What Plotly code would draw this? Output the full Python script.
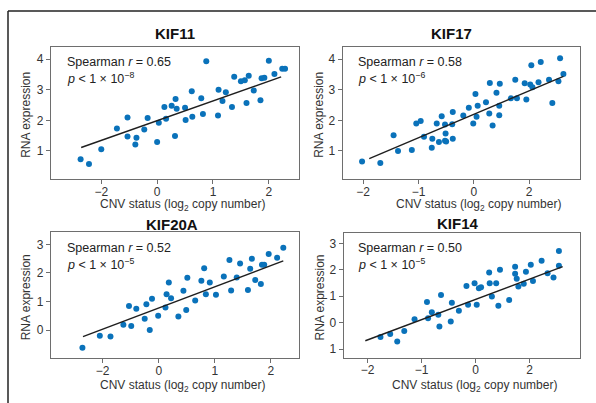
import plotly.graph_objects as go

W, H = 596, 403

# ---------------- data ----------------
titles = ["KIF11", "KIF17", "KIF20A", "KIF14"]
spearman_r = ["0.65", "0.58", "0.52", "0.50"]
p_exp = ["8", "6", "5", "5"]

kif11_x = [-1.37, -1.22, -1.00, -0.72, -0.53, -0.53, -0.37, -0.39, -0.23, -0.17, 0.00, 0.03, 0.13,
           0.16, 0.26, 0.33, 0.35, 0.32, 0.50, 0.51, 0.62, 0.63, 0.79, 0.82, 0.88, 1.10, 1.09, 1.17,
           1.23, 1.34, 1.38, 1.50, 1.57, 1.60, 1.64, 1.73, 1.85, 1.87, 1.92, 2.00, 2.10, 2.24, 2.29]
kif11_y = [0.73, 0.57, 1.05, 1.73, 2.09, 1.47, 1.43, 1.21, 1.70, 2.08, 1.29, 1.92, 2.44,
           2.05, 2.48, 2.70, 2.38, 1.49, 2.41, 2.01, 2.95, 2.12, 2.72, 2.21, 3.93, 3.00, 2.16, 2.63,
           2.92, 2.44, 3.43, 3.28, 3.31, 2.57, 3.46, 2.98, 2.66, 3.38, 3.39, 3.95, 3.52, 3.69, 3.69]
kif11_fit_x = [-1.36, 2.22]
kif11_fit_y = [1.11, 3.42]

kif17_x = [-2.02, -1.69, -1.45, -1.37, -1.12, -1.04, -0.96, -0.90, -0.76, -0.75, -0.67, -0.63, -0.58,
           -0.52, -0.51, -0.52, -0.50, -0.38, -0.38, -0.39, -0.19, -0.09, -0.01, 0.03, 0.05, 0.07,
           0.22, 0.28, 0.29, 0.34, 0.41, 0.46, 0.46, 0.47, 0.67, 0.75, 0.78, 0.92, 0.95, 1.02, 1.04,
           1.06, 1.17, 1.21, 1.36, 1.42, 1.53, 1.56, 1.62]
kif17_y = [0.65, 0.60, 1.51, 1.00, 1.03, 1.90, 1.98, 1.46, 1.10, 1.40, 1.90, 1.29, 2.13,
           1.33, 1.57, 1.86, 1.31, 1.40, 2.27, 1.87, 2.16, 2.41, 1.90, 2.86, 2.12, 2.48,
           2.59, 2.22, 3.22, 1.83, 2.90, 2.48, 2.17, 3.20, 2.72, 3.33, 2.72, 3.21, 2.68, 3.17, 3.80,
           3.08, 3.25, 3.91, 3.33, 2.57, 3.28, 4.03, 3.52]
kif17_fit_x = [-1.89, 1.62]
kif17_fit_y = [0.75, 3.44]

kif20a_x = [-1.36, -1.05, -0.86, -0.63, -0.53, -0.49, -0.40, -0.25, -0.22, -0.16, -0.12, -0.01, 0.12,
            0.14, 0.18, 0.22, 0.35, 0.44, 0.49, 0.51, 0.65, 0.76, 0.81, 0.84, 0.91, 1.02, 1.16, 1.26,
            1.29, 1.39, 1.45, 1.59, 1.63, 1.66, 1.72, 1.82, 1.84, 1.88, 1.96, 2.11, 2.22]
kif20a_y = [-0.62, -0.20, -0.23, 0.18, 0.84, 0.14, 0.74, 0.39, 0.90, 0.00, 1.09, 0.50, 0.79,
            1.25, 1.66, 1.11, 0.47, 1.37, 0.70, 1.83, 1.03, 1.72, 2.16, 1.25, 1.66, 1.23, 1.87, 2.45,
            1.38, 1.84, 2.33, 1.40, 2.14, 2.49, 1.75, 1.61, 2.28, 2.28, 2.66, 2.53, 2.88]
kif20a_fit_x = [-1.35, 2.22]
kif20a_fit_y = [-0.23, 2.42]

kif14_x = [-1.76, -1.58, -1.45, -1.32, -1.13, -0.90, -0.88, -0.81, -0.69, -0.67, -0.64, -0.46, -0.44,
           -0.31, -0.17, -0.14, -0.02, 0.02, 0.06, 0.10, 0.25, 0.26, 0.30, 0.38, 0.42, 0.45, 0.62,
           0.73, 0.73, 0.76, 0.79, 0.89, 0.93, 1.02, 1.06, 1.22, 1.33, 1.44, 1.54, 1.54]
kif14_y = [-0.54, -0.42, -0.71, -0.31, 0.13, 0.78, 0.17, 0.40, 0.30, -0.14, 1.05, 0.05, 0.76,
           0.45, 1.39, 0.68, 1.49, 0.68, 1.30, 1.34, 1.90, 1.49, 0.99, 1.49, 0.64, 2.00, 0.86,
           2.12, 1.85, 1.66, 1.37, 1.47, 1.93, 2.19, 1.58, 2.34, 1.87, 1.71, 2.71, 2.15]
kif14_fit_x = [-2.04, 1.61]
kif14_fit_y = [-0.68, 2.12]

# tick values / labels (as printed in the picture)
x_tickvals_a = [-1, 0, 1, 2]
x_ticktext_a = ["\u22122", "0", "1", "2"]
x_tickvals_b = [-2, -1, 0, 1]
x_ticktext_b = ["\u22122", "\u22121", "0", "2"]
y_tickvals_top = [1, 2, 3, 4]
y_ticktext_top = ["1", "2", "3", "4"]
y_tickvals_20a = [0, 1, 2, 3]
y_ticktext_20a = ["0", "1", "2", "3"]
y_tickvals_14 = [-1, 0, 1, 2, 3]
y_ticktext_14 = ["1", "0", "1", "2", "3"]

xs = [kif11_x, kif17_x, kif20a_x, kif14_x]
ys = [kif11_y, kif17_y, kif20a_y, kif14_y]
fxs = [kif11_fit_x, kif17_fit_x, kif20a_fit_x, kif14_fit_x]
fys = [kif11_fit_y, kif17_fit_y, kif20a_fit_y, kif14_fit_y]

# ---------------- layout (pixels) ----------------
def fx(p):
    return p / W

def fy(p):
    return 1 - p / H

boxes = [  # left, right, top, bottom (px)
    (51, 299, 46.7, 179),
    (342.7, 580, 46.7, 179),
    (51, 299, 232.3, 358.3),
    (343.7, 580, 233.3, 357.7),
]
xranges = [[-1.9, 2.54], [-2.37, 1.92], [-1.92, 2.5], [-2.44, 1.93]]
yranges = [[0.08, 4.41], [0.08, 4.41], [-0.99, 3.42], [-1.32, 3.38]]
xtv = [x_tickvals_a, x_tickvals_b, x_tickvals_a, x_tickvals_b]
xtt = [x_ticktext_a, x_ticktext_b, x_ticktext_a, x_ticktext_b]
ytv = [y_tickvals_top, y_tickvals_top, y_tickvals_20a, y_tickvals_14]
ytt = [y_ticktext_top, y_ticktext_top, y_ticktext_20a, y_ticktext_14]

title_pos = [(175, 33), (451, 33), (172, 224), (458, 223)]
xtitle_pos = [(183, 205), (478, 205), (183, 386), (474, 386)]
ytitle_x = [26, 319, 26, 319]
stat_pos = [(65, 62), (356, 62), (65, 248), (356, 248)]

FONT = "Liberation Sans, Arial, sans-serif"
TXT = "#333333"
AX = "#6e6e6e"
DOT = "#0a72ba"

fig = go.Figure()
layout_axes = {}
annotations = []

for i in range(4):
    n = "" if i == 0 else str(i + 1)
    xa, ya = "x" + n, "y" + n
    fig.add_trace(go.Scatter(x=xs[i], y=ys[i], mode="markers", xaxis=xa, yaxis=ya,
                             marker=dict(color=DOT, size=6, line=dict(width=0)),
                             showlegend=False))
    fig.add_trace(go.Scatter(x=fxs[i], y=fys[i], mode="lines", xaxis=xa, yaxis=ya,
                             line=dict(color="#1f1f1f", width=1.4), showlegend=False))
    l, r, t, b = boxes[i]
    common = dict(showgrid=False, zeroline=False, showline=True, mirror=True,
                  linecolor=AX, linewidth=1.2, ticks="outside", ticklen=4,
                  tickcolor=AX, tickwidth=1, tickfont=dict(size=12, color=TXT, family=FONT))
    layout_axes["xaxis" + n] = dict(domain=[fx(l), fx(r)], range=xranges[i], anchor=ya,
                                    tickmode="array", tickvals=xtv[i], ticktext=xtt[i],
                                    ticklabelstandoff=-3, **common)
    layout_axes["yaxis" + n] = dict(domain=[fy(b), fy(t)], range=yranges[i], anchor=xa,
                                    tickmode="array", tickvals=ytv[i], ticktext=ytt[i], **common)

    tx, ty = title_pos[i]
    annotations.append(dict(text="<b>" + titles[i] + "</b>", x=fx(tx), y=fy(ty), xref="paper",
                            yref="paper", showarrow=False, xanchor="center", yanchor="middle",
                            font=dict(size=15, color="#111111", family=FONT)))
    ax_, ay_ = xtitle_pos[i]
    annotations.append(dict(text="CNV status (log<sub>2</sub> copy number)", x=fx(ax_), y=fy(ay_),
                            xref="paper", yref="paper", showarrow=False, xanchor="center",
                            yanchor="middle", font=dict(size=12, color=TXT, family=FONT)))
    annotations.append(dict(text="RNA expression", x=fx(ytitle_x[i]), y=fy((t + b) / 2 + 2),
                            xref="paper", yref="paper", showarrow=False, textangle=-90,
                            xanchor="center", yanchor="middle",
                            font=dict(size=12, color=TXT, family=FONT)))
    sx, sy = stat_pos[i]
    annotations.append(dict(text="Spearman <i>r</i> = " + spearman_r[i], x=fx(sx), y=fy(sy),
                            xref="paper", yref="paper", showarrow=False, xanchor="left",
                            yanchor="middle", font=dict(size=12.5, color="#222222", family=FONT)))
    annotations.append(dict(text="<i>p</i> < 1 \u00d7 10<sup>\u2212" + p_exp[i] + "</sup>",
                            x=fx(sx), y=fy(sy + 16), xref="paper", yref="paper", showarrow=False,
                            xanchor="left", yanchor="middle",
                            font=dict(size=12.5, color="#222222", family=FONT)))

shapes = [
    dict(type="line", xref="paper", yref="paper", x0=fx(8), x1=fx(596), y0=fy(11), y1=fy(11),
         line=dict(color="#222222", width=1.5)),
    dict(type="line", xref="paper", yref="paper", x0=fx(8), x1=fx(8), y0=fy(11), y1=fy(403),
         line=dict(color="#222222", width=1.5)),
]

fig.update_layout(width=W, height=H, margin=dict(l=0, r=0, t=0, b=0),
                  paper_bgcolor="white", plot_bgcolor="white",
                  font=dict(family=FONT, color=TXT), annotations=annotations, shapes=shapes,
                  **layout_axes)

fig.write_html("out.html", config={"displayModeBar": False},
               post_script="document.body.style.margin='0px';")
